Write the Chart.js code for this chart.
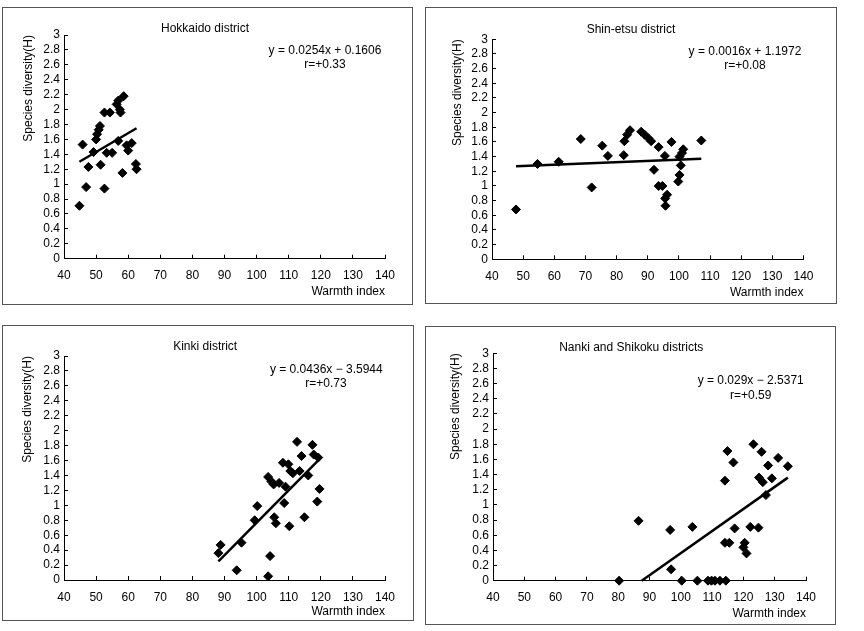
<!DOCTYPE html>
<html>
<head>
<meta charset="utf-8">
<script src="https://cdn.jsdelivr.net/npm/chart.js@4/dist/chart.umd.min.js"></script>
<style>
  html, body { margin: 0; padding: 0; background: #fff; }
  #page { position: relative; width: 864px; height: 631px; overflow: hidden; background: #fff; }
  .frame { position: absolute; border: 1px solid #555; box-sizing: border-box; }
  canvas { position: absolute; }
</style>
</head>
<body>
<div id="page"></div>
<script>
// Tick labels shared by all four panels
const xTickLabels = ['40', '50', '60', '70', '80', '90', '100', '110', '120', '130', '140'];
const yTickLabels = ['0', '0.2', '0.4', '0.6', '0.8', '1', '1.2', '1.4', '1.6', '1.8', '2', '2.2', '2.4', '2.6', '2.8', '3'];

// Hokkaido district
const hokkaidoWarmth = [44.8, 45.8, 46.9, 47.6, 49.2, 50.0, 50.3, 50.8, 51.2, 51.4, 52.6, 52.6, 53.3, 54.3, 55.0, 56.4, 56.9, 57.4, 57.6, 58.6, 56.9, 58.2, 59.5, 60.0, 61.1, 62.4, 62.6];
const hokkaidoDiversity = [0.71, 1.53, 0.96, 1.23, 1.43, 1.60, 1.67, 1.73, 1.78, 1.26, 0.94, 1.96, 1.42, 1.96, 1.42, 2.07, 2.12, 2.00, 1.96, 2.18, 1.58, 1.15, 1.52, 1.45, 1.55, 1.27, 1.20];
const hokkaidoTrendX = [44.8, 62.6];
const hokkaidoTrendY = [1.30, 1.75];

// Shin-etsu district
const shinetsuWarmth = [47.7, 54.6, 61.4, 68.5, 72.0, 75.4, 77.2, 82.3, 82.5, 83.4, 84.3, 87.9, 89.0, 90.2, 91.1, 92.0, 93.5, 93.5, 94.7, 95.5, 95.6, 96.2, 95.7, 97.6, 99.8, 100.2, 100.6, 100.2, 101.0, 101.4, 107.2];
const shinetsuDiversity = [0.68, 1.30, 1.33, 1.64, 0.98, 1.55, 1.41, 1.42, 1.61, 1.70, 1.76, 1.74, 1.70, 1.65, 1.61, 1.22, 1.53, 1.00, 1.00, 1.41, 0.83, 0.88, 0.73, 1.60, 1.06, 1.15, 1.28, 1.40, 1.45, 1.50, 1.62];
const shinetsuTrendX = [47.7, 107.2];
const shinetsuTrendY = [1.27, 1.37];

// Kinki district
const kinkiWarmth = [88.1, 88.8, 93.8, 95.3, 99.4, 100.2, 103.6, 104.2, 103.6, 104.6, 105.3, 105.5, 106.0, 107.0, 108.2, 108.6, 109.0, 109.9, 110.5, 110.2, 111.3, 112.6, 113.4, 114.0, 114.9, 116.1, 117.4, 117.8, 119.2, 119.6, 118.9];
const kinkiDiversity = [0.36, 0.47, 0.13, 0.50, 0.80, 0.99, 1.38, 0.32, 0.05, 1.32, 1.28, 0.84, 0.76, 1.30, 1.57, 1.03, 1.25, 1.55, 1.46, 0.72, 1.43, 1.85, 1.46, 1.66, 0.84, 1.40, 1.81, 1.68, 1.64, 1.22, 1.05];
const kinkiTrendX = [88.1, 119.6];
const kinkiTrendY = [0.25, 1.62];

// Nanki and Shikoku districts
const nankiWarmth = [80.3, 86.5, 96.6, 96.9, 100.3, 103.7, 105.3, 108.7, 109.8, 110.9, 112.5, 114.4, 114.1, 114.9, 114.1, 115.5, 116.8, 117.2, 120.0, 120.4, 121.0, 122.2, 123.2, 124.8, 125.0, 125.8, 126.2, 127.2, 127.9, 129.1, 131.1, 134.2];
const nankiDiversity = [0, 0.79, 0.67, 0.15, 0, 0.71, 0, 0, 0, 0, 0, 0, 1.32, 1.71, 0.50, 0.50, 1.56, 0.69, 0.44, 0.50, 0.36, 0.71, 1.80, 0.70, 1.36, 1.70, 1.30, 1.13, 1.52, 1.35, 1.62, 1.51];
const nankiTrendX = [87.5, 134.2];
const nankiTrendY = [0, 1.36];

const panelTitles = ['Hokkaido district', 'Shin-etsu district', 'Kinki district', 'Nanki and Shikoku districts'];
const equations = ['y = 0.0254x + 0.1606', 'y = 0.0016x + 1.1972', 'y = 0.0436x \u2212 3.5944', 'y = 0.029x \u2212 2.5371'];
const correlations = ['r=+0.33', 'r=+0.08', 'r=+0.73', 'r=+0.59'];

const FONT = '"Liberation Sans", Arial, sans-serif';
Chart.defaults.font.family = FONT;
Chart.defaults.font.size = 12;
Chart.defaults.color = '#000';

// zip two arrays into {x, y} points
function toPoints(xs, ys) {
    return xs.map((x, i) => ({ x: x, y: ys[i] }));
}

// Draws panel title and the regression text
const panelText = {
    id: 'panelText',
    afterDraw(chart, args, opts) {
        const ctx = chart.ctx;
        ctx.save();
        ctx.fillStyle = '#000';
        ctx.font = '12px ' + FONT;
        ctx.textAlign = 'center';
        ctx.textBaseline = 'middle';
        opts.lines.forEach(l => ctx.fillText(l.text, l.x, l.y));
        ctx.restore();
    }
};

// Panel frames and plot layout (pixels)
const panels = [
    { xs: hokkaidoWarmth, ys: hokkaidoDiversity, tx: hokkaidoTrendX, ty: hokkaidoTrendY,
      box: [2, 7, 411, 298], pad: { left: 15, right: 28, top: 28, bottom: 4.3 }, yW: 47, xH: 42,
      titlePos: [203, 21.3], eqPos: [323, 43.7], rPos: [323, 58] },
    { xs: shinetsuWarmth, ys: shinetsuDiversity, tx: shinetsuTrendX, ty: shinetsuTrendY,
      box: [425, 7, 412, 297], pad: { left: 21, right: 33.5, top: 32.3, bottom: 2.1 }, yW: 46, xH: 42.6,
      titlePos: [206, 23], eqPos: [320, 44.7], rPos: [320, 59] },
    { xs: kinkiWarmth, ys: kinkiDiversity, tx: kinkiTrendX, ty: kinkiTrendY,
      box: [2, 325, 412, 296], pad: { left: 14, right: 29, top: 31, bottom: 0.1 }, yW: 48, xH: 40.9,
      titlePos: [203.2, 21.7], eqPos: [324.3, 44.3], rPos: [324, 59] },
    { xs: nankiWarmth, ys: nankiDiversity, tx: nankiTrendX, ty: nankiTrendY,
      box: [425, 326, 411, 299], pad: { left: 19, right: 30, top: 27.3, bottom: 2.5 }, yW: 49, xH: 41.8,
      titlePos: [206.2, 21.7], eqPos: [325.7, 54.7], rPos: [325.7, 70] }
];

const page = document.getElementById('page');

panels.forEach((p, k) => {
    const [left, top, w, h] = p.box;

    const canvas = document.createElement('canvas');
    canvas.width = w;
    canvas.height = h;
    canvas.style.left = left + 'px';
    canvas.style.top = top + 'px';
    page.appendChild(canvas);

    const frame = document.createElement('div');
    frame.className = 'frame';
    frame.style.left = left + 'px';
    frame.style.top = top + 'px';
    frame.style.width = w + 'px';
    frame.style.height = h + 'px';
    page.appendChild(frame);

    new Chart(canvas, {
        type: 'scatter',
        data: {
            datasets: [
                {
                    data: toPoints(p.tx, p.ty),
                    showLine: true,
                    borderColor: '#000',
                    borderWidth: 2.5,
                    pointRadius: 0,
                    clip: false
                },
                {
                    data: toPoints(p.xs, p.ys),
                    pointStyle: 'rectRot',
                    pointRadius: 4.5,
                    backgroundColor: '#000',
                    borderColor: '#000',
                    borderWidth: 1,
                    clip: false
                }
            ]
        },
        options: {
            responsive: false,
            animation: false,
            devicePixelRatio: 1,
            layout: { padding: p.pad },
            plugins: {
                legend: { display: false },
                tooltip: { enabled: false },
                panelText: {
                    lines: [
                        { text: panelTitles[k], x: p.titlePos[0], y: p.titlePos[1] },
                        { text: equations[k], x: p.eqPos[0], y: p.eqPos[1] },
                        { text: correlations[k], x: p.rPos[0], y: p.rPos[1] }
                    ]
                }
            },
            scales: {
                x: {
                    type: 'linear',
                    min: 40,
                    max: 140,
                    afterFit: s => { s.height = p.xH; },
                    ticks: {
                        stepSize: 10,
                        autoSkip: false,
                        maxRotation: 0,
                        padding: 14,
                        callback: (v, i) => xTickLabels[i]
                    },
                    grid: { drawOnChartArea: false, tickLength: -4, color: '#000' },
                    border: { display: true, color: '#000', width: 1 },
                    title: {
                        display: true,
                        text: 'Warmth index',
                        align: 'end',
                        padding: { top: 0, bottom: 2 },
                        font: { size: 12 }
                    }
                },
                y: {
                    min: 0,
                    max: 3,
                    afterFit: s => { s.width = p.yW; },
                    ticks: {
                        stepSize: 0.2,
                        autoSkip: false,
                        padding: 8,
                        callback: (v, i) => yTickLabels[i]
                    },
                    grid: { drawOnChartArea: false, tickLength: -4, color: '#000' },
                    border: { display: true, color: '#000', width: 1 },
                    title: {
                        display: true,
                        text: 'Species diversity(H)',
                        align: 'end',
                        padding: { top: 4, bottom: 0 },
                        font: { size: 12 }
                    }
                }
            }
        },
        plugins: [panelText]
    });
});
</script>
</body>
</html>
